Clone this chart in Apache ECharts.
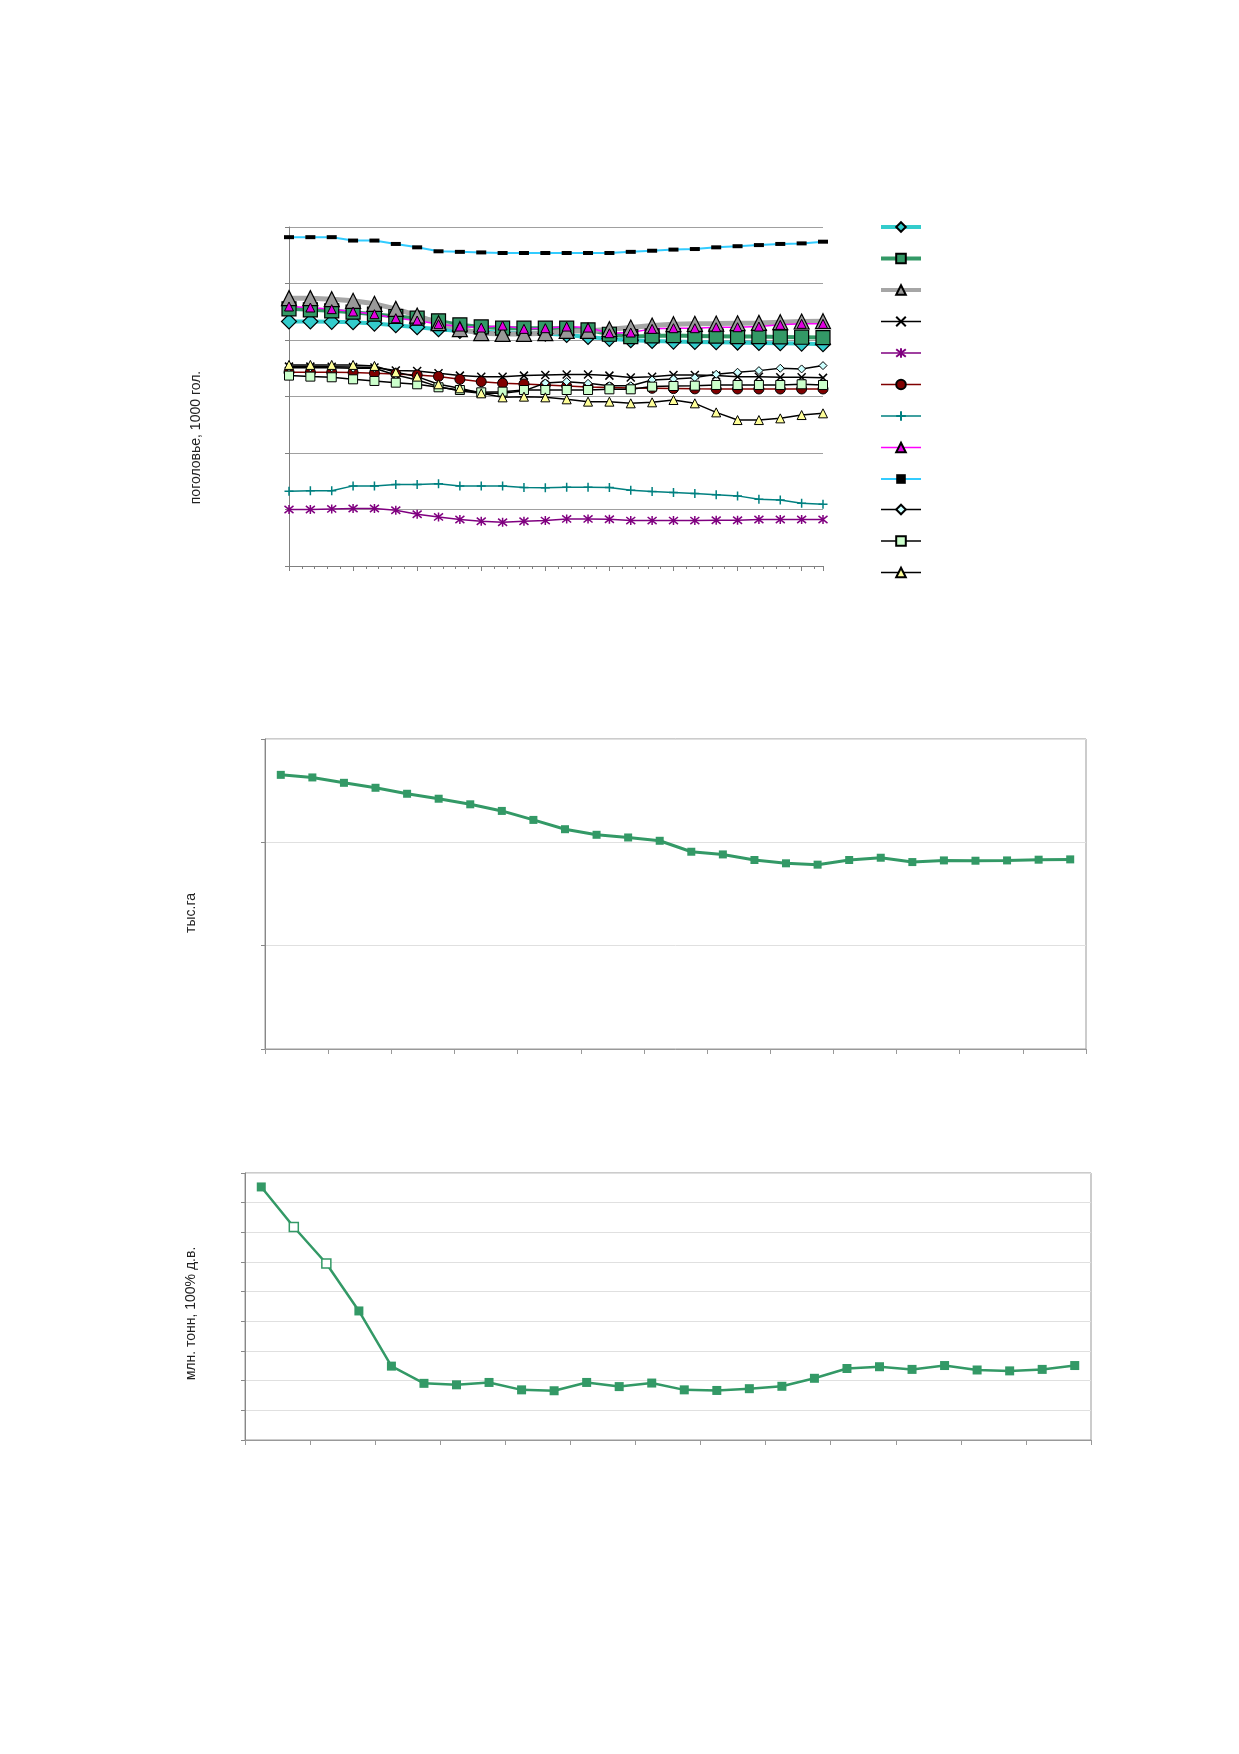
<!DOCTYPE html>
<html>
<head>
<meta charset="utf-8">
<script src="https://cdn.jsdelivr.net/npm/echarts@6/dist/echarts.min.js"></script>
<style>
  html, body { margin: 0; padding: 0; background: #fff; }
  #main { width: 1239px; height: 1754px; }
</style>
</head>
<body>
<div id="main"></div>
<script>
// chart 1: поголовье (26 points, no axis labels in the source)
const herd1 = [432.7, 432.7, 432.1, 431.5, 429.1, 426.2, 422.6, 419.1, 416.1, 414.4, 413.2, 412.6, 411.4, 409, 405.5, 402, 399.6, 398.4, 397.2, 396.6, 396, 395.5, 394.9, 394.3, 393.7, 392.5];
const herd2 = [455.1, 453.4, 451.6, 449.2, 445.7, 441.6, 438.6, 433.9, 426.8, 423.2, 420.9, 420.9, 420.9, 420.9, 417.9, 410.2, 406.1, 407.3, 407.9, 407.3, 406.7, 406.1, 406.1, 405.5, 404.9, 404.3];
const herd3 = [474.1, 474.1, 472.3, 469.3, 464, 455.1, 443.3, 429.7, 419.1, 412, 410.8, 410.8, 412, 416.1, 416.1, 419.1, 422, 425.6, 428, 428.6, 429.1, 429.7, 430.3, 431.5, 432.7, 433.3];
const herd4 = [352.9, 352.9, 352.6, 352, 351.4, 346, 345, 341, 337, 335, 335, 337, 338, 339, 339, 337, 333.5, 335, 338, 338, 337, 335, 335, 334, 334, 333];
const herd5 = [99.9, 99.9, 101, 101.7, 101.7, 98.7, 91.6, 86.9, 82.2, 79.2, 77.4, 79.2, 80.4, 83.3, 83.3, 82.7, 80.4, 80.4, 80.4, 80.4, 81, 81, 82.2, 82.2, 82.2, 82.2];
const herd6 = [342.9, 342.9, 342.9, 342.3, 341.1, 340, 338, 335.5, 330.4, 326.3, 323.3, 322.2, 320.4, 318.5, 317, 316, 315, 314.5, 314, 313.5, 313.3, 313.3, 313.3, 313.3, 313.3, 313.3];
const herd7 = [132.4, 133, 133, 141.8, 141.8, 144.2, 144.2, 145.4, 141.8, 141.8, 141.8, 138.9, 138.3, 139.5, 139.5, 138.9, 134.2, 131.8, 130, 128.2, 125.9, 124.1, 118.2, 117, 111.1, 109.3];
const herd8 = [459.3, 457.5, 454.6, 450.4, 445.7, 438.6, 434.5, 428, 423.8, 422, 425.6, 419.7, 420.9, 423.8, 422, 412, 413.2, 419.7, 420.9, 420.9, 422.6, 422.6, 423.8, 426.8, 428.6, 428.6];
const herd9 = [582, 582, 582, 576, 576, 570, 564, 557, 556, 555, 554, 554, 554, 554, 554, 554, 556, 558, 560, 561, 564, 566, 568, 570, 571, 574];
const herd10 = [351, 351, 351, 350, 350, 338, 329.3, 317.5, 309.8, 305.6, 305.6, 310, 324, 326.3, 323.3, 319, 319, 329.3, 331, 333.4, 339.3, 342.9, 345.8, 350, 348.8, 354.7];
const herd11 = [337, 335.2, 334, 330.4, 327.5, 324.5, 321.6, 316.3, 311.5, 307.4, 308.6, 311.5, 311.5, 311.5, 311.5, 312.7, 312.7, 317.5, 318.6, 319.2, 320.4, 320.4, 320.4, 320.4, 321.6, 320.4];
const herd12 = [355.9, 355.9, 355.9, 355.9, 354.1, 342.9, 335.2, 321.6, 314.5, 305.6, 298.5, 299.7, 298.5, 295, 290.9, 290.9, 287.9, 289.7, 293.8, 287.9, 271.9, 258.3, 258.3, 261.3, 267.2, 270.2];

// chart 2: тыс.га
const area = [265.3, 262.8, 257.6, 252.8, 247.0, 242.2, 236.8, 230.4, 221.7, 212.7, 207.3, 204.7, 201.5, 190.9, 188.3, 182.9, 179.7, 178.4, 182.9, 185.1, 180.9, 182.5, 182.2, 182.5, 183.2, 183.5];
// chart 3: млн. тонн, 100% д.в.
const tonnes = [8.53, 7.18, 5.95, 4.35, 2.49, 1.91, 1.86, 1.94, 1.69, 1.66, 1.94, 1.80, 1.92, 1.69, 1.67, 1.73, 1.81, 2.08, 2.41, 2.47, 2.38, 2.51, 2.36, 2.33, 2.38, 2.51];
const hollowPoints = [1, 2];

const steps = ['1','2','3','4','5','6','7','8','9','10','11','12','13','14','15','16','17','18','19','20','21','22','23','24','25','26'];

const X_PATH = 'path://M0,0L10,10M10,0L0,10';
const PLUS_PATH = 'path://M5,0L5,10M0,5L10,5';
const STAR_PATH = 'path://M1,1L9,9M9,1L1,9M5,0L5,10';

function herdLine(name, data, symbol, size, line, width, fill, border, bw) {
  return {
    type: 'line', name: name, xAxisIndex: 0, yAxisIndex: 0,
    data: data.map((v, i) => [i, v]),
    symbol: symbol, symbolSize: size, showAllSymbol: true,
    lineStyle: { color: line, width: width },
    itemStyle: { color: fill, borderColor: border, borderWidth: bw },
    emphasis: { disabled: true },
    animation: false
  };
}

const herdSeries = [
  herdLine('Ряд1', herd1, 'diamond', 15, '#33CCCC', 4, '#33CCCC', '#000', 1.2),
  herdLine('Ряд2', herd2, 'rect', 14, '#339966', 4, '#339966', '#000', 1.2),
  herdLine('Ряд3', herd3, 'triangle', 15, '#A6A6A6', 5, '#999999', '#000', 1.2),
  herdLine('Ряд4', herd4, X_PATH, 8, '#000', 1.5, '#000', '#000', 1.5),
  herdLine('Ряд5', herd5, STAR_PATH, 9, '#800080', 1.5, '#800080', '#800080', 1.5),
  herdLine('Ряд6', herd6, 'circle', 10, '#800000', 1.5, '#800000', '#000', 1),
  herdLine('Ряд7', herd7, PLUS_PATH, 9, '#008080', 1.5, '#008080', '#008080', 1.5),
  herdLine('Ряд8', herd8, 'triangle', 9, '#FF00FF', 1.5, '#E000E0', '#000', 1),
  herdLine('Ряд9', herd9, 'rect', [10, 4], '#33CCFF', 2, '#000', '#000', 0),
  herdLine('Ряд10', herd10, 'diamond', 8, '#000', 1.5, '#CCFFFF', '#000', 1),
  herdLine('Ряд11', herd11, 'rect', 9, '#000', 1.5, '#CCFFCC', '#000', 1),
  herdLine('Ряд12', herd12, 'triangle', 9, '#000', 1.5, '#FFFF99', '#000', 1)
];

const nameStyle = { fontFamily: 'Liberation Sans, Arial, sans-serif', fontSize: 14, color: '#222' };

const option = {
  backgroundColor: '#fff',
  animation: false,
  legend: {
    data: herdSeries.map(s => ({ name: s.name, lineStyle: { width: Math.min(s.lineStyle.width, 4) } })),
    orient: 'vertical', left: 879, top: 221, padding: 0,
    itemWidth: 40, itemHeight: 12, itemGap: 19.7,
    formatter: () => '',
    textStyle: { fontSize: 1 },
    selectedMode: false
  },
  grid: [
    { left: 289, top: 227, width: 534, height: 339 },
    { left: 265, top: 739, width: 821, height: 310, show: true, borderColor: '#999', borderWidth: 1 },
    { left: 245, top: 1173, width: 846, height: 267, show: true, borderColor: '#999', borderWidth: 1 }
  ],
  xAxis: [
    {
      gridIndex: 0, type: 'value', min: 0, max: 25, interval: 3,
      axisLine: { lineStyle: { color: '#808080' } },
      axisTick: { show: true, length: 5, lineStyle: { color: '#808080' } },
      minorTick: { show: true, splitNumber: 5, length: 3, lineStyle: { color: '#808080' } },
      axisLabel: { show: false }, splitLine: { show: false }
    },
    {
      gridIndex: 1, type: 'category', data: steps, boundaryGap: true,
      axisLine: { lineStyle: { color: '#999' } },
      axisTick: { show: true, interval: 1, length: 5, lineStyle: { color: '#999' } },
      axisLabel: { show: false }, splitLine: { show: false }
    },
    {
      gridIndex: 2, type: 'category', data: steps, boundaryGap: true,
      axisLine: { lineStyle: { color: '#999' } },
      axisTick: { show: true, interval: 1, length: 5, lineStyle: { color: '#999' } },
      axisLabel: { show: false }, splitLine: { show: false }
    }
  ],
  yAxis: [
    {
      gridIndex: 0, type: 'value', min: 0, max: 600, interval: 100,
      name: 'поголовье, 1000 гол.', nameLocation: 'middle', nameGap: 86,
      nameTextStyle: Object.assign({ padding: [0, 82, 0, 0] }, nameStyle),
      axisLine: { show: true, lineStyle: { color: '#808080' } },
      axisTick: { show: true, length: 4, lineStyle: { color: '#808080' } },
      axisLabel: { show: false },
      splitLine: { lineStyle: { color: '#A0A0A0', width: 1 } }
    },
    {
      gridIndex: 1, type: 'value', min: 0, max: 300, interval: 100,
      name: 'тыс.га', nameLocation: 'middle', nameGap: 67,
      nameTextStyle: Object.assign({ padding: [0, 38, 0, 0] }, nameStyle),
      axisLine: { show: true, lineStyle: { color: '#888' } },
      axisTick: { show: true, length: 4, lineStyle: { color: '#888' } },
      axisLabel: { show: false },
      splitLine: { lineStyle: { color: '#E0E0E0', width: 1 } }
    },
    {
      gridIndex: 2, type: 'value', min: 0, max: 9, interval: 1,
      name: 'млн. тонн, 100% д.в.', nameLocation: 'middle', nameGap: 47,
      nameTextStyle: Object.assign({ padding: [0, 14, 0, 0] }, nameStyle),
      axisLine: { show: true, lineStyle: { color: '#888' } },
      axisTick: { show: true, length: 4, lineStyle: { color: '#888' } },
      axisLabel: { show: false },
      splitLine: { lineStyle: { color: '#E0E0E0', width: 1 } }
    }
  ],
  series: herdSeries.concat([
    {
      type: 'line', name: 'площадь', xAxisIndex: 1, yAxisIndex: 1,
      data: area, symbol: 'rect', symbolSize: 8, showAllSymbol: true,
      lineStyle: { color: '#339966', width: 3 },
      itemStyle: { color: '#339966' },
      emphasis: { disabled: true }
    },
    {
      type: 'line', name: 'тонны', xAxisIndex: 2, yAxisIndex: 2,
      data: tonnes.map((v, i) => hollowPoints.includes(i)
        ? { value: v, itemStyle: { color: '#fff', borderColor: '#339966', borderWidth: 1.5 } }
        : v),
      symbol: 'rect', symbolSize: 9, showAllSymbol: true,
      lineStyle: { color: '#339966', width: 2.5 },
      itemStyle: { color: '#339966' },
      emphasis: { disabled: true }
    }
  ])
};

const chart = echarts.init(document.getElementById('main'), null, { renderer: 'canvas' });
chart.setOption(option);
</script>
</body>
</html>
